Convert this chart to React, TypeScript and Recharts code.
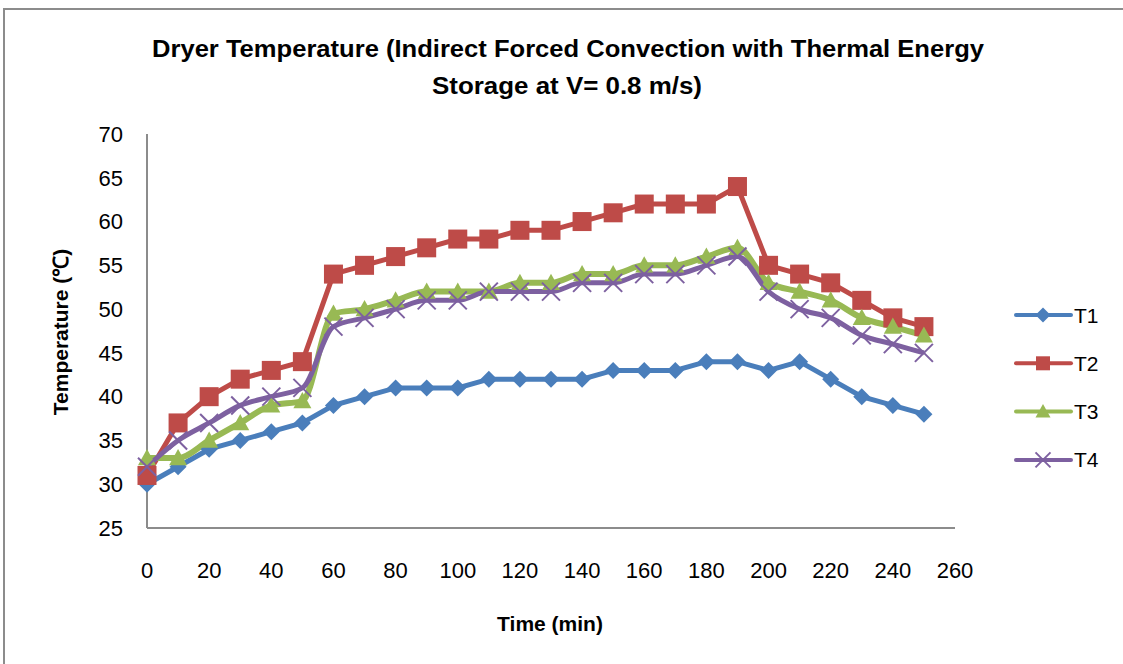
import React from 'react';
import { LineChart, Line, XAxis, YAxis, Legend, Customized } from 'recharts';

const times = [0, 10, 20, 30, 40, 50, 60, 70, 80, 90, 100, 110, 120, 130, 140, 150, 160, 170, 180, 190, 200, 210, 220, 230, 240, 250];
const t1 = [30, 32, 34, 35, 36, 37, 39, 40, 41, 41, 41, 42, 42, 42, 42, 43, 43, 43, 44, 44, 43, 44, 42, 40, 39, 38];
const t2 = [31, 37, 40, 42, 43, 44, 54, 55, 56, 57, 58, 58, 59, 59, 60, 61, 62, 62, 62, 64, 55, 54, 53, 51, 49, 48];
const t3 = [33, 33, 35, 37, 39, 39.5, 49.5, 50, 51, 52, 52, 52, 53, 53, 54, 54, 55, 55, 56, 57, 53, 52, 51, 49, 48, 47];
const t4 = [32, 35, 37, 39, 40, 41, 48, 49, 50, 51, 51, 52, 52, 52, 53, 53, 54, 54, 55, 56, 52, 50, 49, 47, 46, 45];
const xTicks = [0, 20, 40, 60, 80, 100, 120, 140, 160, 180, 200, 220, 240, 260];
const yTicks = [25, 30, 35, 40, 45, 50, 55, 60, 65, 70];

const titleLines = ['Dryer Temperature (Indirect Forced Convection with Thermal Energy', 'Storage at V= 0.8 m/s)'];
const xLabel = 'Time (min)';
const yLabel = 'Temperature (\u2103)';

const data = times.map((t, i) => ({ time: t, T1: t1[i], T2: t2[i], T3: t3[i], T4: t4[i] }));

const BLUE = '#4A7EBB';
const RED = '#BE4B48';
const GREEN = '#98B954';
const PURPLE = '#7D60A0';
const FONT = "'Liberation Sans', Arial, sans-serif";

type MarkProps = { cx?: number; cy?: number; kind: string; color: string; s: number };
const Mark = ({ cx, cy, kind, color, s }: MarkProps) => {
  if (cx == null || cy == null) return null;
  const h = s / 2;
  if (kind === 'diamond') {
    return <polygon points={`${cx},${cy - h} ${cx + h},${cy} ${cx},${cy + h} ${cx - h},${cy}`} fill={color} />;
  }
  if (kind === 'square') {
    return <rect x={cx - h} y={cy - h} width={s} height={s} fill={color} />;
  }
  if (kind === 'triangle') {
    return <polygon points={`${cx},${cy - h} ${cx + h},${cy + h * 0.8} ${cx - h},${cy + h * 0.8}`} fill={color} />;
  }
  return (
    <g stroke={color} strokeWidth={2}>
      <line x1={cx - h} y1={cy - h} x2={cx + h} y2={cy + h} />
      <line x1={cx - h} y1={cy + h} x2={cx + h} y2={cy - h} />
    </g>
  );
};

const seriesDefs = [
  { key: 'T1', color: BLUE, kind: 'diamond', size: 17, width: 5, type: 'linear' },
  { key: 'T2', color: RED, kind: 'square', size: 19, width: 5, type: 'linear' },
  { key: 'T3', color: GREEN, kind: 'triangle', size: 18, width: 6, type: 'monotone' },
  { key: 'T4', color: PURPLE, kind: 'x', size: 18, width: 5, type: 'monotone' },
];

const LegendContent = () => (
  <svg width={100} height={200}>
    {seriesDefs.map((s, i) => {
      const y = 15 + i * 48.3;
      return (
        <g key={s.key}>
          <line x1={2} y1={y} x2={57} y2={y} stroke={s.color} strokeWidth={4} strokeLinecap="round" />
          <Mark cx={29} cy={y} kind={s.kind} color={s.color} s={s.kind === 'square' ? 14 : 15} />
          <text x={60} y={y} dy="0.36em" fontSize={21} fontFamily={FONT} fill="#000">{s.key}</text>
        </g>
      );
    })}
  </svg>
);

const Decor = () => (
  <g>
    <rect x={4} y={9} width={1300} height={900} fill="none" stroke="#8C8C8C" strokeWidth={2} />
    <text x={568} y={57} textAnchor="middle" fontSize={23} fontWeight="bold" fontFamily={FONT} fill="#000" textLength={832} lengthAdjust="spacingAndGlyphs">{titleLines[0]}</text>
    <text x={567} y={94} textAnchor="middle" fontSize={23} fontWeight="bold" fontFamily={FONT} fill="#000" textLength={270} lengthAdjust="spacingAndGlyphs">{titleLines[1]}</text>
    <text x={550} y={631} textAnchor="middle" fontSize={21} fontWeight="bold" fontFamily={FONT} fill="#000">{xLabel}</text>
    <text x={0} y={0} transform="translate(68,332) rotate(-90)" textAnchor="middle" fontSize={21} fontWeight="bold" fontFamily={FONT} fill="#000">{yLabel}</text>
  </g>
);

export default function App() {
  return (
    <div style={{ position: 'absolute', left: 0, top: 0, width: 1123, height: 664, background: '#fff' }}>
      <LineChart width={1123} height={664} data={data} margin={{ top: 134, right: 68, left: 67, bottom: 76 }}>
        <Customized component={Decor} />
        <XAxis
          dataKey="time"
          type="number"
          domain={[0, 260]}
          ticks={xTicks}
          height={60}
          tickSize={0}
          tickMargin={34}
          axisLine={{ stroke: '#8C8C8C', strokeWidth: 2 }}
          tickLine={false}
          tick={{ fontSize: 22, fill: '#000', fontFamily: FONT }}
          interval={0}
        />
        <YAxis
          type="number"
          domain={[25, 70]}
          ticks={yTicks}
          width={80}
          tickSize={0}
          tickMargin={24}
          axisLine={{ stroke: '#8C8C8C', strokeWidth: 2 }}
          tickLine={false}
          tick={{ fontSize: 22, fill: '#000', fontFamily: FONT }}
          interval={0}
        />
        {seriesDefs.map((s) => (
          <Line
            key={s.key}
            dataKey={s.key}
            type={s.type as any}
            stroke={s.color}
            strokeWidth={s.width}
            isAnimationActive={false}
            dot={(p: any) => <Mark key={`${s.key}-${p.index}`} cx={p.cx} cy={p.cy} kind={s.kind} color={s.color} s={s.size} />}
            activeDot={false}
          />
        ))}
        <Legend
          layout="vertical"
          align="right"
          verticalAlign="top"
          content={<LegendContent />}
          wrapperStyle={{ position: 'absolute', left: 1014, top: 300, width: 100, height: 200 }}
        />
      </LineChart>
    </div>
  );
}
